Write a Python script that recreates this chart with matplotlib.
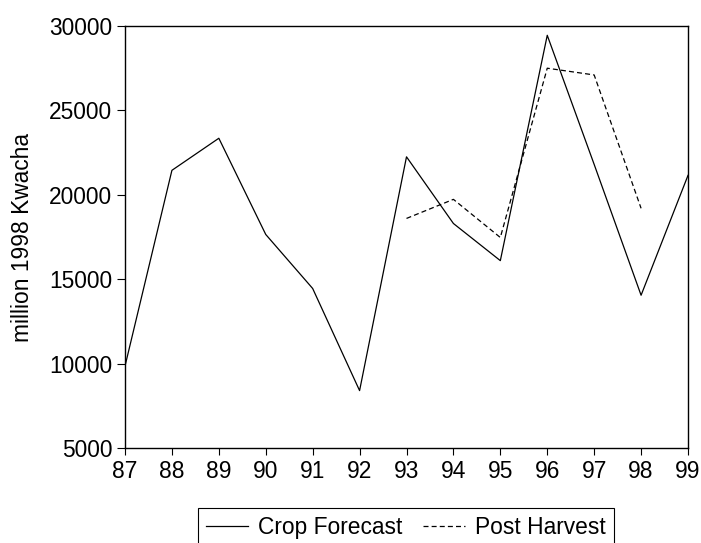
import matplotlib
matplotlib.use("Agg")
import matplotlib.pyplot as plt

years = [87, 88, 89, 90, 91, 92, 93, 94, 95, 96, 97, 98, 99]
crop_forecast = [9850, 21450, 23350, 17650, 14450, 8400, 22250, 18300, 16100, 29450, 21800, 14050, 21150]
ph_years = [93, 94, 95, 96, 97, 98]
post_harvest = [18600, 19730, 17470, 27500, 27100, 19200]
xtick_labels = [str(y) for y in years]
yticks = [5000, 10000, 15000, 20000, 25000, 30000]

plt.rcParams['font.family'] = ['Liberation Sans', 'DejaVu Sans']
plt.rcParams['font.size'] = 16.4

fig = plt.figure(figsize=(7.01, 5.43), dpi=100)
ax = fig.add_axes([125/701, 1-448/543, (688-125)/701, (448-26)/543])

l1, = ax.plot(years, crop_forecast, color='black', lw=0.9, label='Crop Forecast')
l2, = ax.plot(ph_years, post_harvest, color='black', lw=0.9, linestyle=(0, (4, 2.5)), label='Post Harvest')

ax.set_xlim(87, 99)
ax.set_ylim(5000, 30000)
ax.set_xticks(years)
ax.set_xticklabels(xtick_labels)
ax.set_yticks(yticks)
ax.tick_params(axis='y', direction='out', length=6, width=0.8, pad=3)
ax.tick_params(axis='x', direction='out', length=5, width=0.8, pad=4)
for s in ax.spines.values():
    s.set_linewidth(1.0)
ax.set_ylabel('million 1998 Kwacha', labelpad=11)

leg = fig.legend(handles=[l1, l2], loc='upper center', bbox_to_anchor=(406/701, 1-508/543),
                 bbox_transform=fig.transFigure, ncol=2, frameon=True, fancybox=False,
                 edgecolor='black', framealpha=1, handlelength=1.85, handletextpad=0.45,
                 columnspacing=0.9, borderpad=0.35, borderaxespad=0)
leg.get_frame().set_linewidth(0.8)

fig.savefig('out.png', dpi=100)
